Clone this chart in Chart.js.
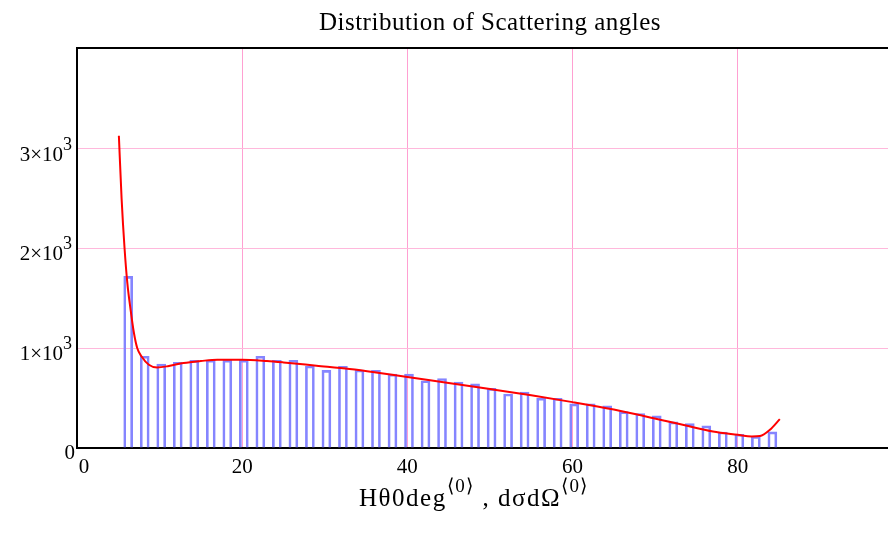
<!DOCTYPE html>
<html>
<head>
<meta charset="utf-8">
<script src="https://cdn.jsdelivr.net/npm/chart.js@4/dist/chart.umd.min.js"></script>
<style>
  body { margin: 0; background: #fff; }
  #wrap { width: 888px; height: 533px; }
</style>
</head>
<body>
<div id="wrap"><canvas id="myChart" width="888" height="533"></canvas></div>
<script>
// histogram bins (deg) and counts
var binCenters = [6.2, 8.2, 10.2, 12.2, 14.2, 16.2, 18.2, 20.2, 22.2, 24.2,
  26.2, 28.2, 30.2, 32.2, 34.2, 36.2, 38.2, 40.2, 42.2, 44.2,
  46.2, 48.2, 50.2, 52.2, 54.2, 56.2, 58.2, 60.2, 62.2, 64.2,
  66.2, 68.2, 70.2, 72.2, 74.2, 76.2, 78.2, 80.2, 82.2, 84.2];
var binCounts = [1720, 920, 842, 858, 878, 880, 880, 880, 920, 880,
  880, 822, 778, 818, 782, 778, 741, 741, 674, 697,
  661, 643, 598, 541, 561, 499, 499, 443, 444, 422,
  364, 344, 322, 262, 244, 222, 160, 138, 116, 161];

// fitted d sigma / d omega curve
var curveX = [5.07, 5.4, 5.76, 6.1, 6.5, 6.9, 7.3, 7.8, 8.7, 9.7, 11, 12.9, 15, 17, 20,
  23, 25, 29, 33, 36, 40, 45, 50, 55, 60, 65, 70.6, 74, 77, 80, 81.7, 82.7, 83.9, 85.1];
var curveY = [3130, 2500, 2000, 1650, 1380, 1150, 1000, 920, 835, 808, 820, 852, 872, 885, 885,
  872, 858, 825, 792, 760, 711, 652, 591, 528, 460, 385, 284, 220, 166, 133, 116, 120, 183, 290];

var xTicks = [0, 20, 40, 60, 80];
var yTicks = [0, 1000, 2000, 3000];
var yTickText = ["0", "1\u00d710", "2\u00d710", "3\u00d710"];
var yTickExp = ["", "3", "3", "3"];

var titleText = "Distribution of Scattering angles";
var serif = "'Liberation Serif', 'Times New Roman', serif";

var bars = [];
for (var i = 0; i < binCenters.length; i++) {
  bars.push({ x: binCenters[i], y: binCounts[i] });
}
var curve = [];
for (var j = 0; j < curveX.length; j++) {
  curve.push({ x: curveX[j], y: curveY[j] });
}

var textPlugin = {
  id: "mcadText",
  afterDraw: function (chart) {
    var ctx = chart.ctx;
    var area = chart.chartArea;
    var xs = chart.scales.x;
    var ys = chart.scales.y;
    ctx.save();

    // top frame line
    ctx.strokeStyle = "#000";
    ctx.lineWidth = 2;
    ctx.beginPath();
    ctx.moveTo(area.left - 1, area.top);
    ctx.lineTo(area.right, area.top);
    ctx.stroke();

    ctx.fillStyle = "#000";
    ctx.textBaseline = "alphabetic";

    // title
    ctx.font = "25px " + serif;
    ctx.letterSpacing = "0.5px";
    ctx.textAlign = "center";
    ctx.fillText(titleText, 490, 30);
    ctx.letterSpacing = "0px";

    // x tick labels
    ctx.font = "21px " + serif;
    for (var i = 0; i < xTicks.length; i++) {
      var px = xs.getPixelForValue(xTicks[i]);
      if (xTicks[i] === 0) px += 7;
      ctx.fillText(String(xTicks[i]), px, 473);
    }

    // y tick labels with exponent
    ctx.textAlign = "right";
    for (var k = 0; k < yTicks.length; k++) {
      var py = ys.getPixelForValue(yTicks[k]);
      ctx.font = "21px " + serif;
      if (yTickExp[k] === "") {
        ctx.fillText(yTickText[k], 75, py + 11);
      } else {
        ctx.font = "18px " + serif;
        var ew = ctx.measureText(yTickExp[k]).width;
        ctx.fillText(yTickExp[k], 72, py + 1);
        ctx.font = "21px " + serif;
        ctx.fillText(yTickText[k], 72 - ew, py + 12);
      }
    }

    // x axis title: H theta 0 deg<0>, d sigma d Omega<0>
    var parts = [
      ["H\u03b80deg", 0],
      ["\u27e80\u27e9", 1],
      [" , d\u03c3d\u03a9", 0],
      ["\u27e80\u27e9", 1]
    ];
    ctx.letterSpacing = "1.5px";
    var total = 0;
    for (var p = 0; p < parts.length; p++) {
      ctx.font = (parts[p][1] ? "19px " : "25px ") + serif;
      total += ctx.measureText(parts[p][0]).width;
    }
    var cx = 474 - total / 2;
    ctx.textAlign = "left";
    for (var q = 0; q < parts.length; q++) {
      ctx.font = (parts[q][1] ? "19px " : "25px ") + serif;
      ctx.fillText(parts[q][0], cx, parts[q][1] ? 492 : 506);
      cx += ctx.measureText(parts[q][0]).width;
    }
    ctx.restore();
  }
};

const data = {
  datasets: [
    {
      type: "line",
      label: "dσdΩ",
      data: curve,
      borderColor: "#ff0000",
      borderWidth: 2,
      pointRadius: 0,
      fill: false,
      cubicInterpolationMode: "monotone",
      order: 0
    },
    {
      type: "bar",
      label: "Hθ0deg",
      data: bars,
      backgroundColor: "rgba(255,255,255,0)",
      borderColor: "#8585ff",
      borderWidth: 2,
      borderSkipped: "bottom",
      barThickness: 9,
      order: 1
    }
  ]
};

const config = {
  type: "bar",
  data: data,
  options: {
    responsive: false,
    animation: false,
    devicePixelRatio: 1,
    layout: { padding: { top: 48, left: 0, right: 0, bottom: 0 } },
    plugins: {
      legend: { display: false },
      title: { display: false },
      tooltip: { enabled: false }
    },
    scales: {
      x: {
        type: "linear",
        min: 0,
        max: 98.2,
        offset: false,
        afterBuildTicks: function (scale) {
          scale.ticks = xTicks.map(function (v) { return { value: v }; });
        },
        afterFit: function (scale) { scale.height = 85; },
        ticks: { display: false },
        grid: { color: "#ffa0d2", lineWidth: 1, drawTicks: false, offset: false },
        border: { color: "#000", width: 2 }
      },
      y: {
        min: 0,
        max: 4010,
        afterBuildTicks: function (scale) {
          scale.ticks = yTicks.map(function (v) { return { value: v }; });
        },
        afterFit: function (scale) { scale.width = 77; },
        ticks: { display: false },
        grid: { color: "#ffb8dc", lineWidth: 1, drawTicks: false },
        border: { color: "#000", width: 2 }
      }
    }
  },
  plugins: [textPlugin]
};

const myChart = new Chart(document.getElementById("myChart"), config);
</script>
</body>
</html>
